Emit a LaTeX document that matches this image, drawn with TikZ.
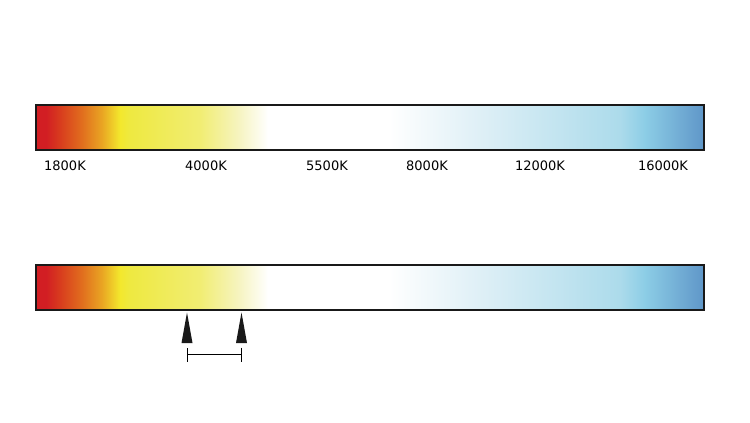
\documentclass[tikz,border=0pt]{standalone}
\usepackage{fontspec}
\setsansfont{DejaVu Sans}
\usetikzlibrary{arrows.meta}

% colour temperature colours
\definecolor{kred}{RGB}{210,30,35}
\definecolor{kredor}{RGB}{216,60,30}
\definecolor{korange}{RGB}{225,110,30}
\definecolor{kamber}{RGB}{233,165,35}
\definecolor{kyellow}{RGB}{243,232,45}
\definecolor{klemon}{RGB}{238,233,65}
\definecolor{kpale}{RGB}{241,237,115}
\definecolor{kcream}{RGB}{246,244,195}
\definecolor{kice}{RGB}{226,241,247}
\definecolor{ksky}{RGB}{172,219,235}
\definecolor{kcyan}{RGB}{140,205,230}
\definecolor{kblue}{RGB}{95,150,200}

% the middle 25bp..75bp of the shading fills the bar
\pgfdeclarehorizontalshading{kelvin}{100bp}{%
  color(0bp)=(kred); color(25bp)=(kred); color(25.75bp)=(kred);
  color(26.8bp)=(kredor); color(28.44bp)=(korange); color(29.94bp)=(kamber);
  color(31.29bp)=(kyellow); color(32.04bp)=(klemon); color(37.28bp)=(kpale);
  color(40.27bp)=(kcream); color(42.37bp)=(white); color(51.4bp)=(white);
  color(57.49bp)=(kice); color(68.71bp)=(ksky); color(70.58bp)=(kcyan);
  color(75bp)=(kblue); color(100bp)=(kblue)}

\begin{document}
\begin{tikzpicture}[x=1pt,y=-1pt,
  tempbar/.style={draw=black!90, line width=2.5pt, shading=kelvin,
    minimum width=668pt, minimum height=45pt, inner sep=0pt},
  klabel/.style={font=\sffamily\fontsize{13}{15}\selectfont, inner sep=0pt},
  marker/.style={fill=black!90}]
\useasboundingbox (0,0) rectangle (750,423);

% Scale with temperatures
\node[tempbar] (scale) at (370,127.5) {};
\foreach \x/\t in {65/1800K, 206/4000K, 327/5500K, 427/8000K, 540/12000K, 663/16000K} {
  \node[klabel] (l\t) at (\x,165.5) {\t};
}

% Scale with range markers
\node[tempbar] (range) at (370,287.5) {};
\coordinate (mlow) at (187,312.5);
\coordinate (mhigh) at (241.5,312.5);
\fill[marker] (mlow) -- ++(-5.5,30.5) -- ++(11,0) -- cycle;
\fill[marker] (mhigh) -- ++(-5.5,30.5) -- ++(11,0) -- cycle;

% Width of the range
\coordinate (blow) at (187.3,354.5);
\coordinate (bhigh) at (242.3,354.5);
\draw[line width=1pt, {Bar[width=14pt]}-{Bar[width=14pt]}] (blow) -- (bhigh);
\end{tikzpicture}
\end{document}
